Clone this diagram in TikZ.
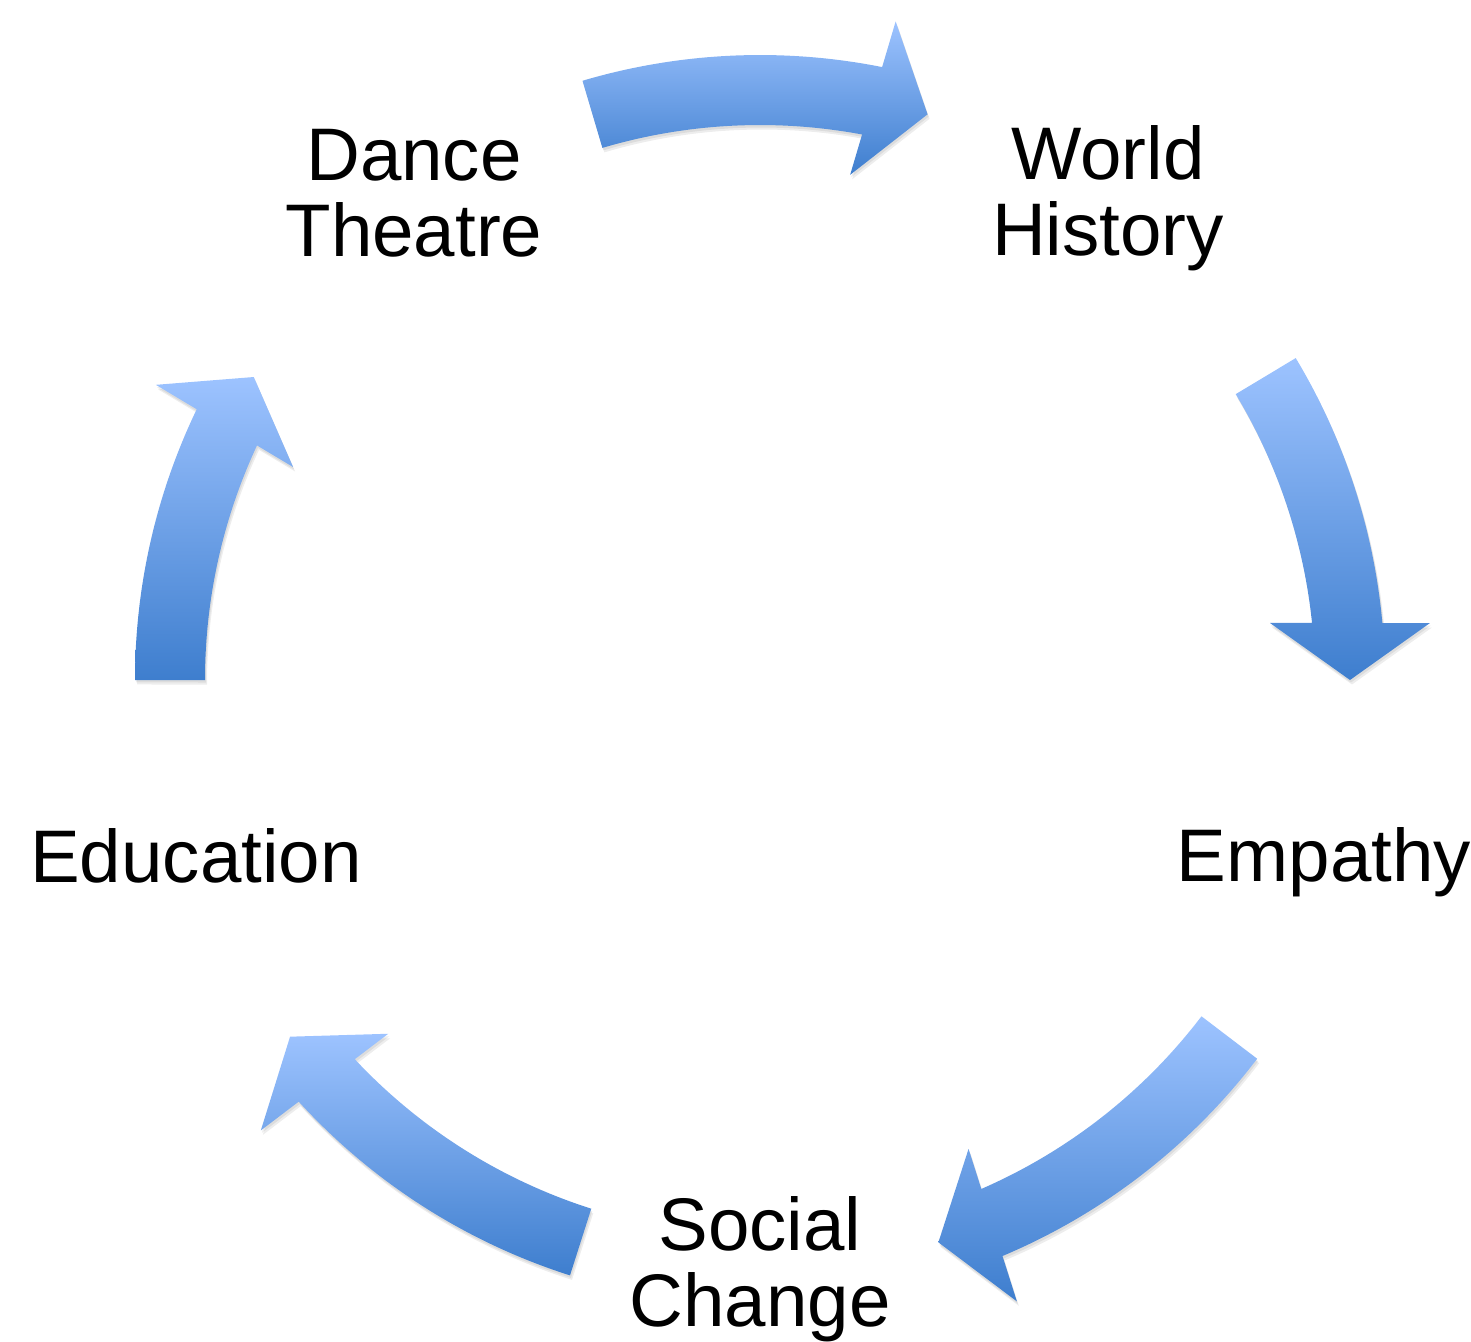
\documentclass[tikz,border=0pt]{standalone}
\usepackage{fontspec}
\setmainfont{Liberation Sans}
\usepackage{tikz}
\definecolor{arrowtop}{RGB}{157,195,255}
\definecolor{arrowbot}{RGB}{62,126,206}

\begin{document}
\begin{tikzpicture}[
  cyclearrow/.style={top color=arrowtop, bottom color=arrowbot},
  arrowshade/.style={fill=black, opacity=0.07},
  cyclelabel/.style={align=center, inner sep=0pt, font=\fontsize{21.2}{21.6}\selectfont}]
\useasboundingbox (0,0) rectangle (14.71,13.41);
\coordinate (c) at (7.60,6.61);
% the five stations
\node[cyclelabel] (dance) at (4.14,11.48) {Dance\\Theatre};
\node[cyclelabel] (world) at (11.08,11.43) {World\\History};
\node[cyclelabel] (empathy) at (13.24,4.79) {Empathy};
\node[cyclelabel] (social) at (7.60,0.715) {Social\\Change};
\node[cyclelabel] (educ) at (1.96,4.855) {Education};
% curved block arrows, clockwise; head lies along the tangent at the tip
\begin{scope}[shift={(c)}]
\foreach \s/\e in {106.5/73.5, 31/0, -37.3/-72.4, -107.7/-142.8, 180/149.1}{
  \foreach \dx/\dy in {0.02/-0.045, 0.01/-0.025}
    \path[arrowshade, shift={(\dx,\dy)}] (\s:6.25) arc[start angle=\s, end angle=\e+5.23, radius=6.25]
      -- ({\e+4.86}:6.724) -- (\e:5.9) -- ({\e+6.38}:5.132) -- ({\e+5.9}:5.55)
      arc[start angle=\e+5.9, end angle=\s, radius=5.55] -- cycle;
  \path[cyclearrow] (\s:6.25) arc[start angle=\s, end angle=\e+5.23, radius=6.25]
    -- ({\e+4.86}:6.724) -- (\e:5.9) -- ({\e+6.38}:5.132) -- ({\e+5.9}:5.55)
    arc[start angle=\e+5.9, end angle=\s, radius=5.55] -- cycle;
}
\end{scope}
\end{tikzpicture}
\end{document}
